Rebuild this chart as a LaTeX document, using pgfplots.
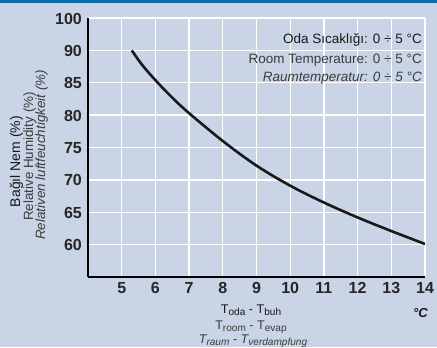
\documentclass[border=0pt]{standalone}
\usepackage{pgfplots}
\pgfplotsset{compat=1.18}
\usepackage{graphicx}
\usepackage{fontspec}
\setmainfont{Liberation Sans}
\definecolor{bg}{HTML}{C9D4E6}
\definecolor{topbar}{HTML}{0B6AA2}
\definecolor{txtgrey}{HTML}{3C3C3C}
\newcommand\sub[1]{\raisebox{-0.35ex}{\scalebox{0.8}{#1}}}
\begin{document}
\begin{tikzpicture}[x=1bp,y=1bp]
\fill[bg] (0,0) rectangle (437,347);
\fill[topbar] (0,343.5) rectangle (437,347);
\path[use as bounding box] (0,0) rectangle (437,347);
\begin{axis}[
  at={(88bp,70bp)}, anchor=south west,
  scale only axis, width=337bp, height=259bp,
  xmin=4, xmax=14, ymin=55, ymax=95,
  xtick={5,...,14}, ytick={60,65,...,95},
  yticklabels={60,65,70,75,80,85,90,100},
  grid=major, major grid style={white, line width=1.3bp},
  axis x line*=bottom, axis y line*=left,
  axis line style={black, line width=2bp, -},
  tick style={draw=none},
  ticklabel style={font=\fontsize{16bp}{18bp}\selectfont\bfseries, text=black!85},
  yticklabel style={anchor=east, inner sep=0pt, xshift=-6bp, yshift=-0.5bp},
  xticklabel style={anchor=north, inner sep=0pt, yshift=-5bp},
  /pgf/number format/assume math mode=true,
]
\addplot[black!90, line width=2.6bp, smooth, tension=0.55] coordinates {
(5.3,90.0) (5.6,87.8) (6,85.4) (6.5,82.7) (7,80.3) (8,76.0) (9,72.2) (10,69.1) (11,66.5) (12,64.2) (13,62.1) (14,60.1)
};
\end{axis}
% top-right notes
\node[anchor=base east, inner sep=0pt, font=\fontsize{13.5bp}{15bp}\selectfont, text=black!90] at (422,304) {Oda Sıcaklığı: 0 ÷ 5 °C};
\node[anchor=base east, inner sep=0pt, font=\fontsize{13.5bp}{15bp}\selectfont, text=txtgrey] at (422,284) {Room Temperature: 0 ÷ 5 °C};
\node[anchor=base east, inner sep=0pt, font=\fontsize{13.5bp}{15bp}\selectfont\itshape, text=txtgrey] at (422,266) {Raumtemperatur: 0 ÷ 5 °C};
% y label
\node[rotate=90, anchor=base, inner sep=0pt, font=\fontsize{14bp}{16bp}\selectfont, text=black!90] at (20,185.5) {Bağıl Nem (\%)};
\node[rotate=90, anchor=base, inner sep=0pt, font=\fontsize{13.4bp}{15bp}\selectfont, text=txtgrey] at (33,190.5) {Relative Humidity (\%)};
\node[rotate=90, anchor=base, inner sep=0pt, font=\fontsize{13.4bp}{15bp}\selectfont\itshape, text=txtgrey] at (45,192) {Relativen luftfeuchtigkeit (\%)};
% x label
\node[anchor=base, inner sep=0pt, font=\fontsize{12.6bp}{14bp}\selectfont, text=black!90] at (251,34) {T\sub{oda} - T\sub{buh}};
\node[anchor=base, inner sep=0pt, font=\fontsize{12.6bp}{14bp}\selectfont, text=txtgrey] at (251,18) {T\sub{room} - T\sub{evap}};
\node[anchor=base, inner sep=0pt, font=\fontsize{12.6bp}{14bp}\selectfont\itshape, text=txtgrey] at (253,3.5) {T\sub{raum} - T\sub{verdampfung}};
\node[anchor=base east, inner sep=0pt, font=\fontsize{13bp}{14bp}\selectfont\bfseries\itshape, text=black!90] at (428,30) {°C};
\end{tikzpicture}
\end{document}
